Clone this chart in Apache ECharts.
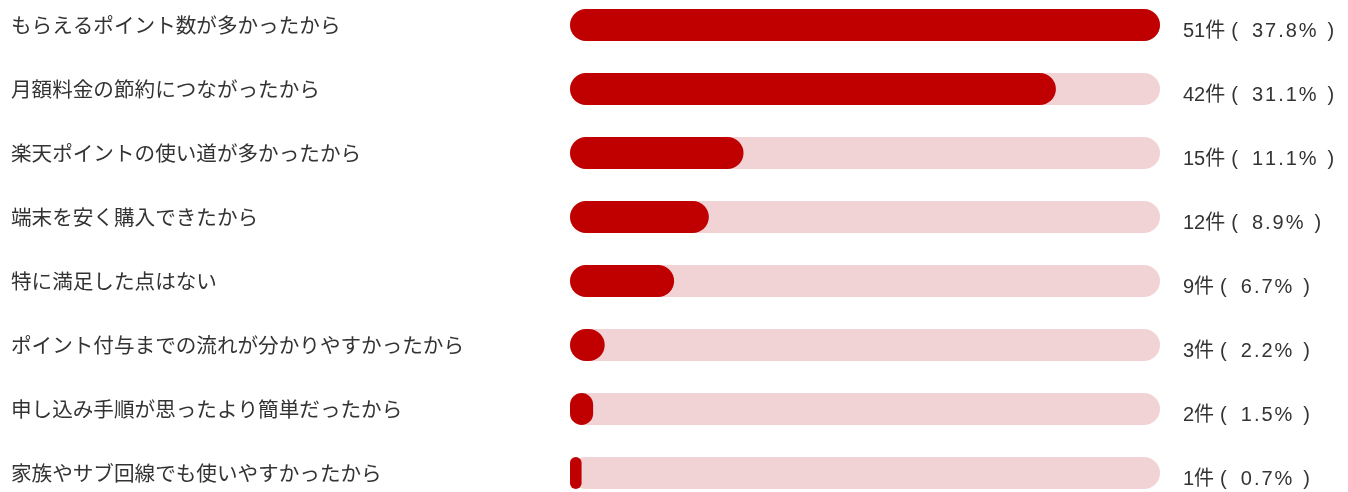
<!DOCTYPE html>
<html><head><meta charset="utf-8">
<script src="https://cdn.jsdelivr.net/npm/echarts@6/dist/echarts.min.js"></script>
<style>html,body{margin:0;padding:0;background:#fff}#c{width:1348px;height:492px}</style>
</head><body><div id="c"></div>
<script>
const categories = [
  "もらえるポイント数が多かったから",
  "月額料金の節約につながったから",
  "楽天ポイントの使い道が多かったから",
  "端末を安く購入できたから",
  "特に満足した点はない",
  "ポイント付与までの流れが分かりやすかったから",
  "申し込み手順が思ったより簡単だったから",
  "家族やサブ回線でも使いやすかったから"
];
const counts = [51, 42, 15, 12, 9, 3, 2, 1];
const percents = ["37.8", "31.1", "11.1", "8.9", "6.7", "2.2", "1.5", "0.7"];
const maxValue = 51;

const chart = echarts.init(document.getElementById('c'));
const cjk = '"Noto Sans CJK JP", "Noto Sans", sans-serif';
const latin = '"Liberation Sans", Arial, "Noto Sans CJK JP", sans-serif';
const txt = { color: '#333', fontSize: 20, fontFamily: latin };
function spaced(s) {
  return s.split('').map((c, i) => (i === 0 ? '{v|' : '{s|') + c + '}').join('');
}
chart.setOption({
  animation: false,
  grid: { left: 570, right: 188, top: 25, height: 448, containLabel: false },
  xAxis: { type: 'value', min: 0, max: maxValue, show: false },
  yAxis: {
    type: 'category', inverse: true, data: categories, boundaryGap: false,
    axisLine: { show: false }, axisTick: { show: false }, splitLine: { show: false },
    axisLabel: {
      align: 'left', margin: 559, color: '#333', fontSize: 20.6, fontFamily: cjk,
      padding: [0, 0, 12, 0]
    }
  },
  series: [
    {
      type: 'bar', barWidth: 32, silent: true,
      data: counts.map(() => maxValue),
      itemStyle: { color: '#f2d3d5', borderRadius: 16 },
      label: {
        show: true, position: 'right', distance: 23, offset: [0, 6],
        color: '#333', fontSize: 20, fontFamily: latin,
        formatter: p => '{n|' + counts[p.dataIndex] + '件}{l|(}' + spaced(percents[p.dataIndex] + '%') + '{r|)}',
        rich: {
          n: Object.assign({}, txt),
          l: Object.assign({}, txt, { padding: [0, 0, 0, 6] }),
          v: Object.assign({}, txt, { padding: [0, 0, 0, 14] }),
          s: Object.assign({}, txt, { padding: [0, 0, 0, 2] }),
          r: Object.assign({}, txt, { padding: [0, 0, 0, 11] })
        }
      }
    },
    {
      type: 'bar', barWidth: 32, barGap: '-100%',
      data: counts,
      itemStyle: { color: '#c00000', borderRadius: 16 }
    }
  ]
});
</script></body></html>
